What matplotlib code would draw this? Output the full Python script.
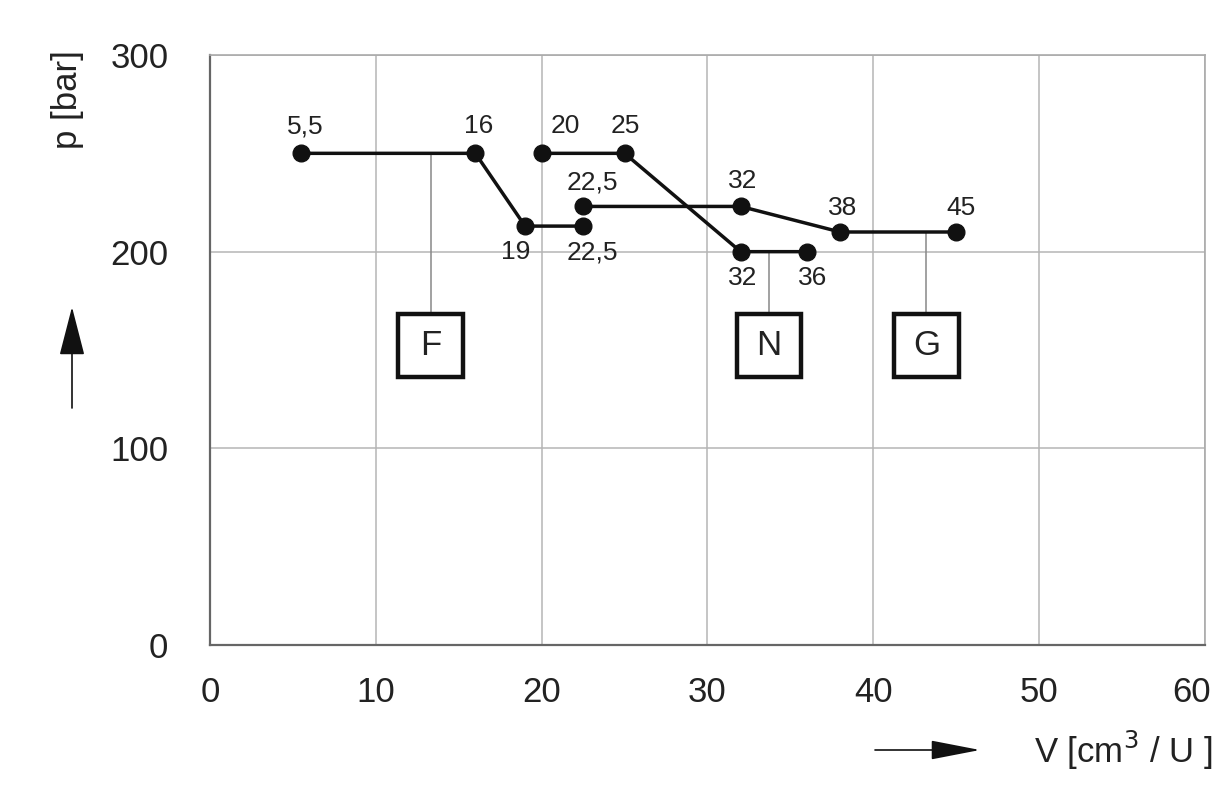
import matplotlib
matplotlib.use("Agg")
import matplotlib.pyplot as plt
from matplotlib.patches import Rectangle
from matplotlib.transforms import ScaledTranslation

plt.rcParams['font.family'] = ['Liberation Sans', 'DejaVu Sans']

# ---- data ----
V_F = [5.5, 16, 19, 22.5]
p_F = [250, 250, 213, 213]
lab_F = ["5,5", "16", "19", "22,5"]

V_N = [20, 25, 32, 36]
p_N = [250, 250, 200, 200]
lab_N = ["20", "25", "32", "36"]

V_G = [22.5, 32, 38, 45]
p_G = [223, 223, 210, 210]
lab_G = ["22,5", "32", "38", "45"]

series_names = ["F", "N", "G"]
x_ticks = [0, 10, 20, 30, 40, 50, 60]
y_ticks = [0, 100, 200, 300]

# ---- figure ----
fig = plt.figure(figsize=(12.32, 7.89), dpi=100)
ax = fig.add_axes([210/1232, 1-645/789, 995/1232, 590/789])
ax.set_xlim(0, 60)
ax.set_ylim(0, 300)
ax.set_xticks(x_ticks)
ax.set_yticks(y_ticks)
ax.tick_params(length=0, labelsize=25, colors='#222222', pad=22)
ax.tick_params(axis='y', pad=30)
ax.grid(True, color='#b5b5b5', lw=1.1)
for side, s in ax.spines.items():
    if side in ('left', 'bottom'):
        s.set_color('#666666')
        s.set_linewidth(1.6)
    else:
        s.set_color('#aaaaaa')
        s.set_linewidth(1.2)
ax.set_axisbelow(True)
# last x tick label sits slightly left in the original
last = ax.get_xticklabels()[-1]
last.set_transform(last.get_transform() + ScaledTranslation(-13/100, 0, fig.dpi_scale_trans))

# label offsets in pixels (layout only)
offs_F = [(4, 27), (3, 27), (-9, -26), (9, -26)]
offs_N = [(24, 27), (1, 27), (2, -26), (6, -26)]
offs_G = [(9, 24), (2, 25), (2, 24), (5, 24)]

for V, p, labs, offs in [(V_F, p_F, lab_F, offs_F),
                         (V_N, p_N, lab_N, offs_N),
                         (V_G, p_G, lab_G, offs_G)]:
    ax.plot(V, p, color='#111111', lw=2.5, marker='o', ms=12, zorder=4,
            solid_capstyle='round')
    for x, y, t, o in zip(V, p, labs, offs):
        ax.annotate(t, (x, y), xytext=o, textcoords='offset pixels',
                    ha='center', va='center', fontsize=19, color='#222222')

# curve name boxes with connector lines (layout)
box_x = [13.3, 33.7, 43.2]
line_top = [p_F[0], p_N[-1], p_G[-1]]
bw, bh, bcy = 3.9, 32, 152.5
for name, cx, top in zip(series_names, box_x, line_top):
    ax.plot([cx, cx], [top, bcy + bh/2], color='#888888', lw=1.1, zorder=3)
    ax.add_patch(Rectangle((cx - bw/2, bcy - bh/2), bw, bh, facecolor='white',
                           edgecolor='#111111', lw=3.2, zorder=5))
    ax.text(cx, bcy, name, ha='center', va='center', fontsize=25,
            color='#222222', zorder=6)

# axis labels with arrows
fig.text(67/1232, 1-100/789, "p [bar]", rotation=90, ha='center', va='center',
         fontsize=25, color='#222222')
fig.text(1213/1232, 1-750/789, "V [cm$^3$ / U ]", ha='right', va='center',
         fontsize=25, color='#222222')
ax.annotate('', xy=(72, 789-307), xytext=(72, 789-408), xycoords='figure pixels',
            textcoords='figure pixels',
            arrowprops=dict(arrowstyle='-|>,head_length=3.1,head_width=0.8',
                            mutation_scale=10, color='#111111', lw=1.2,
                            shrinkA=0, shrinkB=0))
ax.annotate('', xy=(980, 789-750), xytext=(875, 789-750), xycoords='figure pixels',
            textcoords='figure pixels',
            arrowprops=dict(arrowstyle='-|>,head_length=3.1,head_width=0.6',
                            mutation_scale=10, color='#111111', lw=1.2,
                            shrinkA=0, shrinkB=0))

fig.savefig("out.png", dpi=100, facecolor='white')
